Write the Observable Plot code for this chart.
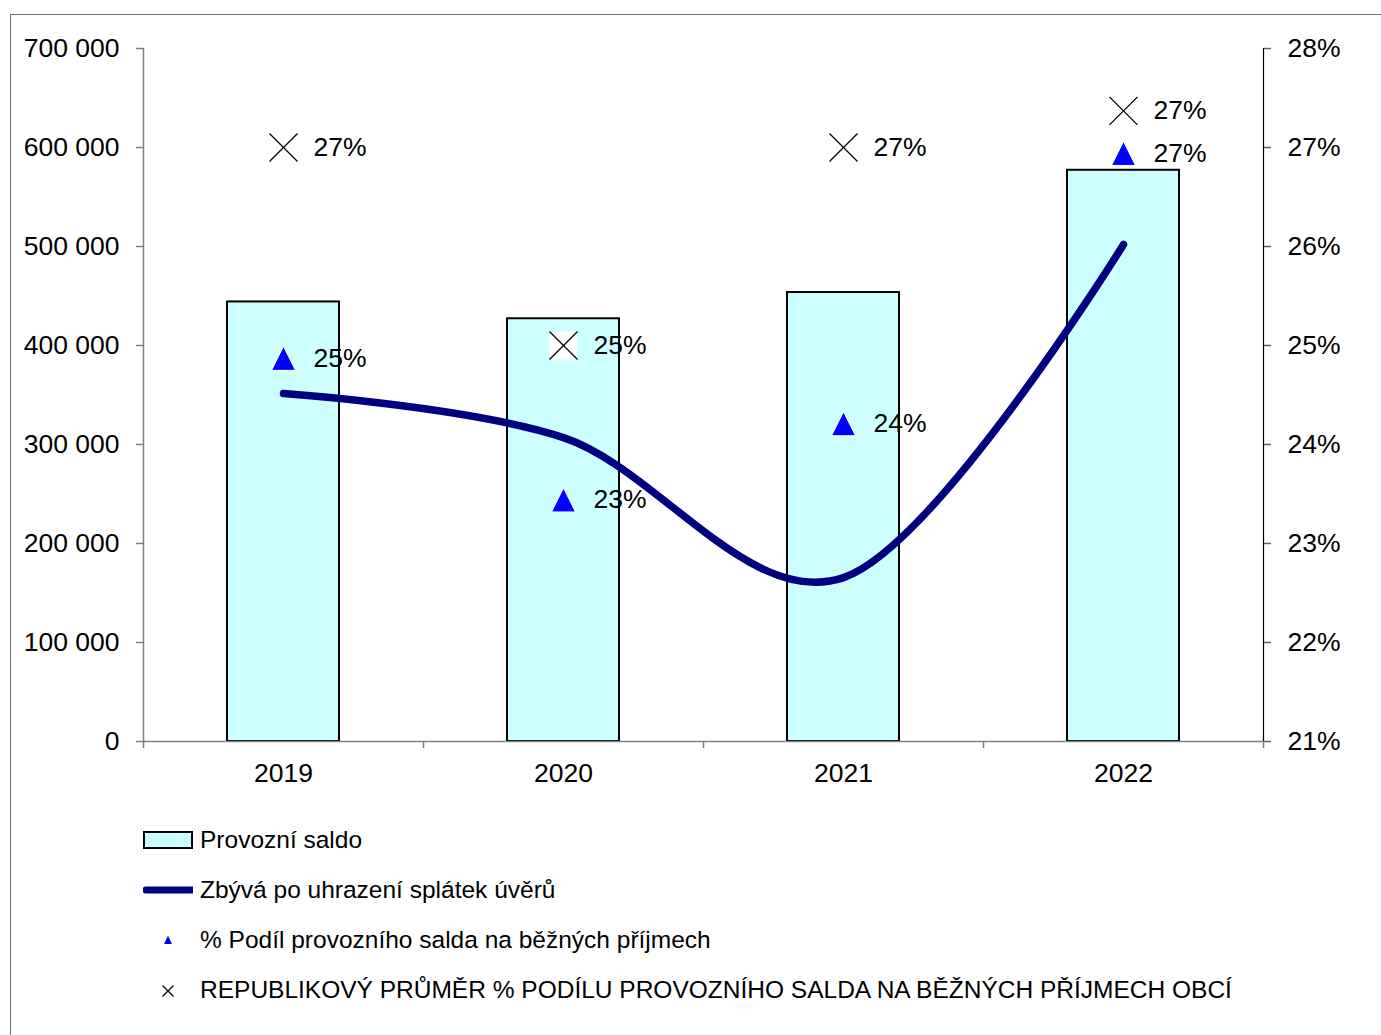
<!DOCTYPE html>
<html>
<head>
<meta charset="utf-8">
<script src="https://cdn.jsdelivr.net/npm/d3@7"></script>
<script src="https://cdn.jsdelivr.net/npm/@observablehq/plot@0.6"></script>
<style>
  html, body { margin: 0; padding: 0; overflow: hidden; background: #fff; }
  body { font-family: "Liberation Sans", Arial, sans-serif; }
  #wrap { position: relative; width: 1381px; height: 1035px; overflow: hidden; }
  #border { position: absolute; left: 10px; top: 14px; width: 1500px; height: 1200px;
            border: 1px solid #707070; box-sizing: border-box; pointer-events: none; }
  #chart { position: relative; height: 800px; }
  #legend { position: relative; padding-top: 15px; }
  .row { position: relative; height: 50px; font-size: 24.5px; color: #000; }
  .row .sw { position: absolute; left: 143px; top: 0; width: 50px; height: 50px; }
  .row .lab { position: absolute; left: 200px; top: 0; line-height: 50px; white-space: nowrap; }
</style>
</head>
<body>
<div id="wrap">
  <div id="border"></div>
  <div id="chart"></div>
  <div id="legend"></div>
</div>
<script>
// ---- data ----
const years = [2019, 2020, 2021, 2022];
const provozniSaldo = [444000, 427000, 453500, 577000];      // bars (left axis)
const zbyvaPoSplatkach = [351500, 307000, 165500, 502000];   // smooth line (left axis)
const podilProcent = [24.87, 23.44, 24.21, 26.94];           // triangles (right axis, %)
const republikovyPrumer = [27.0, 25.0, 27.0, 27.37];         // crosses (right axis, %)
const leftTicks = [0, 100000, 200000, 300000, 400000, 500000, 600000, 700000];
const rightTickLabels = ["21%", "22%", "23%", "24%", "25%", "26%", "27%", "28%"];
const xBoundaries = [2018.5, 2019.5, 2020.5, 2021.5, 2022.5];
const legendLabels = [
  "Provozní saldo",
  "Zbývá po uhrazení splátek úvěrů",
  "% Podíl provozního salda na běžných příjmech",
  "REPUBLIKOVÝ PRŮMĚR % PODÍLU PROVOZNÍHO SALDA NA BĚŽNÝCH PŘÍJMECH OBCÍ"
];

// right axis (21%..28%) mapped onto the left axis (0..700 000)
const pctMin = 21;
const pctToLeft = p => (p - pctMin) * 100000;

const data = years.map((year, i) => ({
  year,
  saldo: provozniSaldo[i],
  zbyva: zbyvaPoSplatkach[i],
  podil: podilProcent[i],
  rep: republikovyPrumer[i]
}));

const fmtLeft = v => d3.format(",")(v).replace(/,/g, " ");
const fmtRight = v => rightTickLabels[leftTicks.indexOf(v)];
const xDomain = [xBoundaries[0], xBoundaries[xBoundaries.length - 1]];
const yDomain = [leftTicks[0], leftTicks[leftTicks.length - 1]];

// Excel-like triangle marker: width equals height, centred on its box
const excelTriangle = {
  draw(context, size) {
    const h = Math.sqrt(size / Math.PI);
    context.moveTo(0, -h);
    context.lineTo(h, h);
    context.lineTo(-h, h);
    context.closePath();
  }
};

const chart = Plot.plot({
  width: 1381,
  height: 800,
  marginLeft: 143,
  marginRight: 118,
  marginTop: 48,
  marginBottom: 59,
  style: { fontFamily: "'Liberation Sans', Arial, sans-serif", fontSize: "26.5px", color: "black", background: "transparent", overflow: "visible" },
  x: { type: "linear", domain: xDomain },
  y: { domain: yDomain },
  marks: [
    // bars
    Plot.rect(data, { x1: d => d.year - 0.2, x2: d => d.year + 0.2, y1: 0, y2: "saldo",
      fill: "#CCFFFF", stroke: "black", strokeWidth: 2 }),
    // axis lines
    Plot.ruleY([yDomain[0]], { x1: xDomain[0], x2: xDomain[1], stroke: "#808080", strokeWidth: 1.5 }),
    Plot.ruleX([xDomain[0]], { y1: yDomain[0], y2: yDomain[1], stroke: "#808080", strokeWidth: 1.5 }),
    Plot.ruleX([xDomain[1]], { y1: yDomain[0], y2: yDomain[1], stroke: "black", strokeWidth: 1.2 }),
    // left axis
    Plot.axisY({ ticks: leftTicks, tickSize: 7, stroke: "#808080", strokeWidth: 1.5, fill: "none", label: null }),
    Plot.axisY({ ticks: leftTicks, tickSize: 0, tickPadding: 24, tickFormat: fmtLeft, label: null, fontSize: 26.5 }),
    // right axis
    Plot.axisY({ anchor: "right", ticks: leftTicks, tickSize: 7, stroke: "#606060", strokeWidth: 1.5, fill: "none", label: null }),
    Plot.axisY({ anchor: "right", ticks: leftTicks, tickSize: 0, tickPadding: 24, tickFormat: fmtRight, label: null, fontSize: 26.5 }),
    // bottom axis
    Plot.axisX({ ticks: xBoundaries, tickSize: 7, stroke: "#808080", strokeWidth: 1.5, fill: "none", label: null }),
    Plot.axisX({ ticks: years, tickSize: 0, tickPadding: 22, tickFormat: d => String(d), label: null, fontSize: 26.5 }),
    // smooth line
    Plot.line(data, { x: "year", y: "zbyva", curve: "cardinal", tension: 0,
      stroke: "#000080", strokeWidth: 7.5, strokeLinecap: "round", strokeLinejoin: "round" }),
    // republic average markers (× on white square)
    Plot.dot(data, { x: "year", y: d => pctToLeft(d.rep), symbol: "square", r: 15.8, fill: "white", stroke: "none" }),
    Plot.dot(data, { x: "year", y: d => pctToLeft(d.rep), symbol: "times", r: 12.8, stroke: "black", strokeWidth: 1.3 }),
    // share markers (triangles)
    Plot.dot(data, { x: "year", y: d => pctToLeft(d.podil), symbol: excelTriangle, r: 12,
      fill: "#0000FF", stroke: "white", strokeWidth: 1 }),
    // data labels
    Plot.text(data, { x: "year", y: d => pctToLeft(d.rep), text: d => Math.round(d.rep) + "%",
      dx: 30, textAnchor: "start", fontSize: 26.5, fill: "black" }),
    Plot.text(data, { x: "year", y: d => pctToLeft(d.podil), text: d => Math.round(d.podil) + "%",
      dx: 30, textAnchor: "start", fontSize: 26.5, fill: "black" })
  ]
});
document.getElementById("chart").appendChild(chart);

// ---- legend ----
const swatches = [
  `<svg width="50" height="50"><rect x="1" y="17" width="48" height="16" fill="#CCFFFF" stroke="black" stroke-width="2"/></svg>`,
  `<svg width="50" height="50"><line x1="3" y1="25" x2="49" y2="25" stroke="#000080" stroke-width="7" stroke-linecap="round"/></svg>`,
  `<svg width="50" height="50"><path d="M25,20.5 L29,29 L21,29 Z" fill="#0000FF"/></svg>`,
  `<svg width="50" height="50"><path d="M19.5,20.5 L30.5,31.5 M19.5,31.5 L30.5,20.5" stroke="black" stroke-width="1.2"/></svg>`
];
const legend = document.getElementById("legend");
legendLabels.forEach((t, i) => {
  const row = document.createElement("div");
  row.className = "row";
  row.innerHTML = `<div class="sw">${swatches[i]}</div><div class="lab"></div>`;
  row.querySelector(".lab").textContent = t;
  legend.appendChild(row);
});
</script>
</body>
</html>
